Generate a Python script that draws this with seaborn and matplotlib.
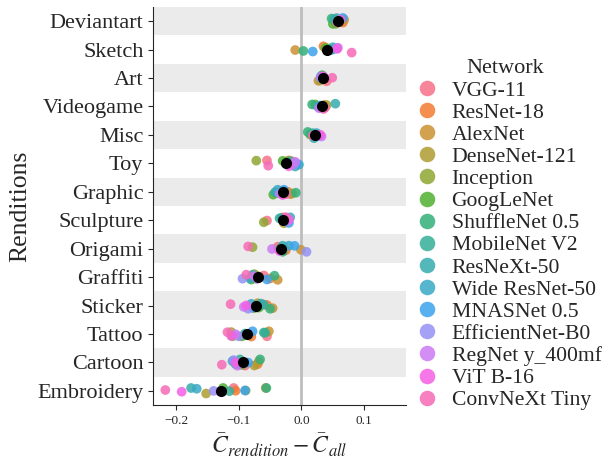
import numpy as np
import pandas as pd
import matplotlib
matplotlib.use('Agg')
import matplotlib.pyplot as plt
import seaborn as sns

# Dados
renditions = ['Deviantart', 'Sketch', 'Art', 'Videogame', 'Misc', 'Toy', 'Graphic',
              'Sculpture', 'Origami', 'Graffiti', 'Sticker', 'Tattoo', 'Cartoon', 'Embroidery']

networks = ['VGG-11', 'ResNet-18', 'AlexNet', 'DenseNet-121', 'Inception', 'GoogLeNet',
            'ShuffleNet 0.5', 'MobileNet V2', 'ResNeXt-50', 'Wide ResNet-50', 'MNASNet 0.5',
            'EfficientNet-B0', 'RegNet y_400mf', 'ViT B-16', 'ConvNeXt Tiny']

# um valor por rede (mesma ordem de networks)
deviantart = [0.062, 0.066, 0.068, 0.060, 0.055, 0.050, 0.048, 0.052, 0.056, 0.058, 0.066, 0.060, 0.058, 0.062, 0.057]
sketch = [0.045, 0.035, -0.010, 0.040, 0.042, 0.038, 0.003, 0.050, 0.050, 0.048, 0.018, 0.056, 0.058, 0.057, 0.080]
art = [0.040, 0.036, 0.027, 0.030, 0.032, 0.033, 0.034, 0.036, 0.035, 0.031, 0.033, 0.030, 0.032, 0.035, 0.049]
videogame = [0.035, 0.038, 0.036, 0.040, 0.030, 0.022, 0.017, 0.026, 0.054, 0.033, 0.030, 0.032, 0.028, 0.034, 0.037]
misc = [0.020, 0.022, 0.018, 0.020, 0.015, 0.014, 0.010, 0.018, 0.020, 0.024, 0.026, 0.028, 0.032, 0.030, 0.018]
toy = [-0.055, -0.020, -0.015, -0.022, -0.072, -0.030, -0.025, -0.018, -0.010, -0.004, -0.008, -0.012, -0.010, -0.020, -0.053]
graphic = [-0.030, -0.022, -0.018, -0.015, -0.040, -0.045, -0.009, -0.030, -0.042, -0.038, -0.028, -0.035, -0.032, -0.030, -0.025]
sculpture = [-0.055, -0.030, -0.030, -0.028, -0.060, -0.025, -0.028, -0.035, -0.032, -0.018, -0.020, -0.022, -0.024, -0.020, -0.025]
origami = [-0.038, -0.025, -0.001, -0.035, -0.078, -0.035, -0.030, -0.032, -0.030, -0.020, -0.011, 0.008, -0.047, -0.035, -0.085]
graffiti = [-0.060, -0.050, -0.038, -0.070, -0.075, -0.080, -0.043, -0.072, -0.078, -0.082, -0.055, -0.094, -0.075, -0.070, -0.088]
sticker = [-0.062, -0.055, -0.046, -0.070, -0.075, -0.068, -0.050, -0.060, -0.065, -0.080, -0.078, -0.085, -0.092, -0.088, -0.113]
tattoo = [-0.055, -0.080, -0.052, -0.112, -0.110, -0.095, -0.058, -0.060, -0.090, -0.085, -0.078, -0.100, -0.105, -0.112, -0.118]
cartoon = [-0.090, -0.070, -0.068, -0.075, -0.100, -0.095, -0.066, -0.098, -0.105, -0.110, -0.085, -0.108, -0.102, -0.105, -0.127]
embroidery = [-0.108, -0.105, -0.057, -0.152, -0.089, -0.125, -0.056, -0.115, -0.176, -0.167, -0.090, -0.140, -0.130, -0.191, -0.217]

valores = [deviantart, sketch, art, videogame, misc, toy, graphic,
           sculpture, origami, graffiti, sticker, tattoo, cartoon, embroidery]

linhas = []
for rend, vals in zip(renditions, valores):
    for net, v in zip(networks, vals):
        linhas.append({'Rendition': rend, 'Network': net, 'diff': v})
df = pd.DataFrame(linhas)

sns.set_style('ticks')
plt.rcParams['font.family'] = ['Liberation Serif', 'DejaVu Serif']
plt.rcParams['mathtext.fontset'] = 'stix'

fig, ax = plt.subplots(figsize=(6.1, 4.63), dpi=100)
fig.subplots_adjust(left=0.251, right=0.666, top=0.985, bottom=0.125)

# faixas cinzas alternadas
for i in range(0, len(renditions), 2):
    ax.axhspan(i - 0.5, i + 0.5, color='#ebebeb', lw=0, zorder=0)
ax.axvline(0, color='#bdbdbd', lw=2, zorder=1)

np.random.seed(3)
sns.stripplot(data=df, x='diff', y='Rendition', hue='Network', order=renditions,
              hue_order=networks, palette='husl', size=7, jitter=0.12, alpha=0.85,
              ax=ax, zorder=2)
sns.pointplot(data=df, x='diff', y='Rendition', order=renditions, color='black',
              linestyle='none', errorbar=None, markersize=8, markeredgewidth=0, ax=ax)

ax.set_xlim(-0.2365, 0.167)
ax.set_ylim(len(renditions) - 0.5, -0.5)
ax.set_xticks([-0.2, -0.1, 0.0, 0.1])
ax.set_xticklabels(['\u22120.2', '\u22120.1', '0.0', '0.1'])
ax.tick_params(axis='x', labelsize=9.5)
ax.tick_params(axis='y', labelsize=16)
ax.set_xlabel(r'$\bar{C}_{rendition} - \bar{C}_{all}$', fontsize=17)
ax.set_ylabel('Renditions', fontsize=18.5)
sns.despine(ax=ax)

sns.move_legend(ax, 'upper left', bbox_to_anchor=(0.935, 0.917), frameon=False,
                title='Network', fontsize=15.6, title_fontsize=16, markerscale=1.6,
                labelspacing=0.09, handlelength=1.6, handletextpad=0.35)

plt.savefig('out.png', dpi=100)
